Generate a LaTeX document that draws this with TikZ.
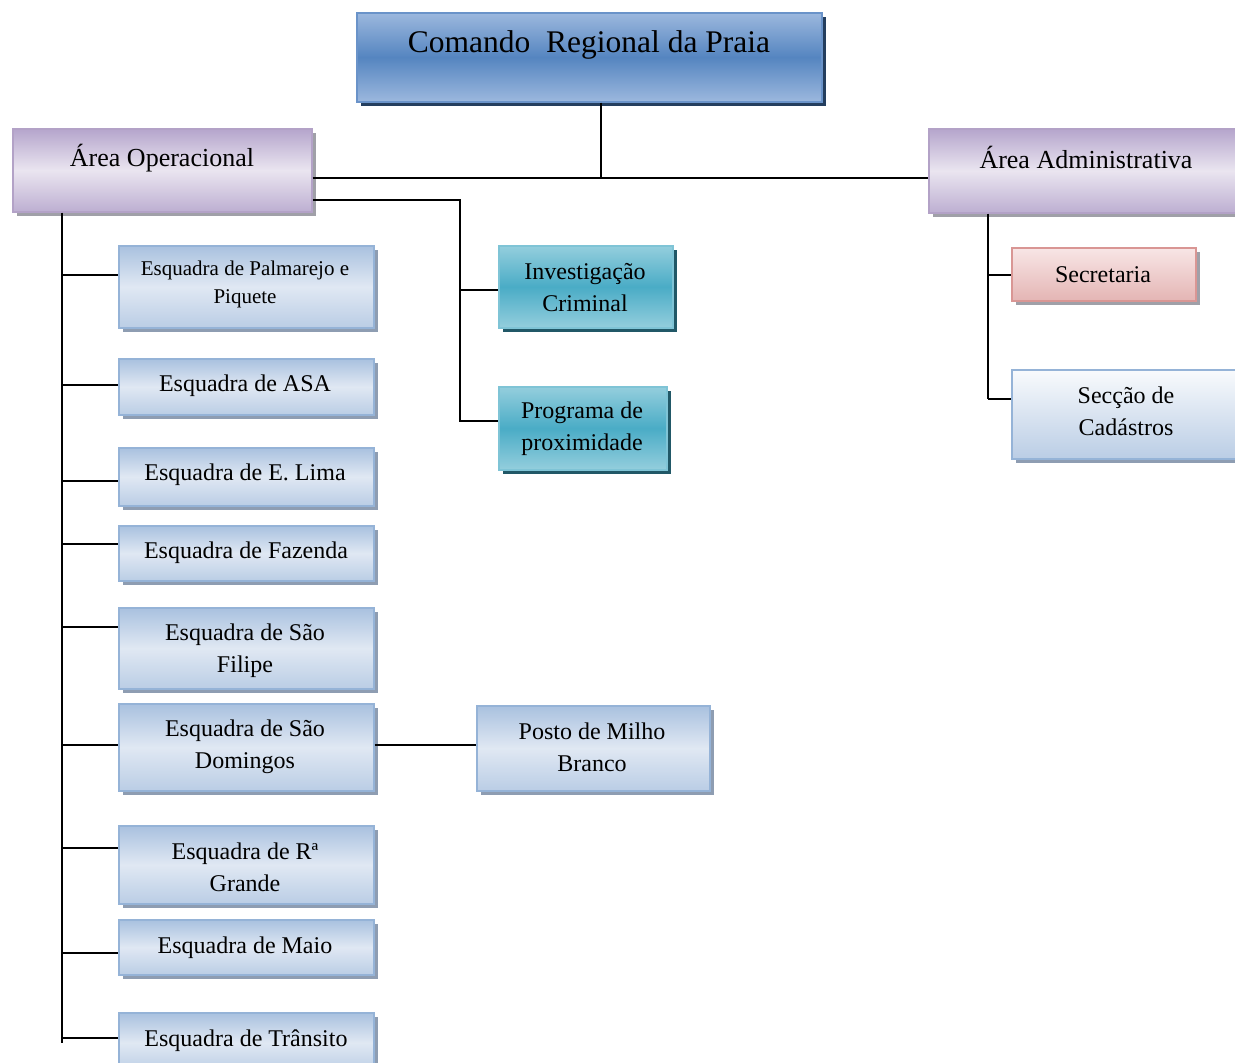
\documentclass[tikz,border=0pt]{standalone}
\usepackage{fontspec}
\setmainfont{Liberation Serif}
\usetikzlibrary{shadows}

\definecolor{cmdmid}{HTML}{5585C0}
\definecolor{cmdlt}{HTML}{9CB8DE}
\definecolor{cmdline}{HTML}{6A93C9}
\definecolor{cmdshadow}{HTML}{243E5E}
\definecolor{purdk}{HTML}{B5A5CC}
\definecolor{purlt}{HTML}{EAE5F0}
\definecolor{purline}{HTML}{B3A2C7}
\definecolor{bludk}{HTML}{A9C1DF}
\definecolor{blult}{HTML}{E0E8F3}
\definecolor{blumd}{HTML}{BACDE5}
\definecolor{bluline}{HTML}{95B3D7}
\definecolor{grshadow}{HTML}{8E9DB2}
\definecolor{tealdk}{HTML}{4AACC6}
\definecolor{teallt}{HTML}{94CEDD}
\definecolor{tealline}{HTML}{7FC4D6}
\definecolor{tealshadow}{HTML}{215867}
\definecolor{pinklt}{HTML}{F8E6E6}
\definecolor{pinkdk}{HTML}{E4B5B4}
\definecolor{pinkline}{HTML}{D99694}
\definecolor{grayshadow}{HTML}{A0A0A8}

\begin{document}
\begin{tikzpicture}[x=1pt,y=-1pt,
  box/.style={anchor=north west, inner sep=0pt, line width=1.6pt},
  shad/.style={drop shadow={shadow xshift=4pt, shadow yshift=-4pt, fill=#1, opacity=1}},
  cmdbox/.style={box, draw=cmdline, top color=cmdlt, bottom color=cmdlt, middle color=cmdmid, shad=cmdshadow},
  areabox/.style={box, draw=purline, shading angle=-25, top color=purdk, bottom color=purdk!85!purlt, middle color=purlt, shad=grayshadow},
  unitbox/.style={box, draw=bluline, shading angle=35, top color=bludk, bottom color=blumd, middle color=blult, shad=grshadow},
  tealbox/.style={box, draw=tealline, top color=teallt, bottom color=teallt, middle color=tealdk, shad=tealshadow},
  pinkbox/.style={box, draw=pinkline, top color=pinklt, bottom color=pinkdk, shad=grayshadow},
  lightbox/.style={box, draw=bluline, top color=white!80!blult, bottom color=blumd, shad=grshadow},
  lbl/.style={align=center, inner sep=0pt, font=\fontsize{24}{32}\selectfont},
  link/.style={line width=1.4pt, black}
]
\clip (0,0) rectangle (1235,1063);
\fill[white] (0,0) rectangle (1235,1063);

% boxes
\node[cmdbox, minimum width=465, minimum height=89] (cmd) at (356,12) {};
\node[areabox, minimum width=299, minimum height=83] (opr) at (12,128) {};
\node[areabox, minimum width=312, minimum height=84] (adm) at (928,128) {};

\node[unitbox, minimum width=255, minimum height=82] (palm) at (118,245) {};
\node[unitbox, minimum width=255, minimum height=56] (asa) at (118,358) {};
\node[unitbox, minimum width=255, minimum height=58] (lima) at (118,447) {};
\node[unitbox, minimum width=255, minimum height=55] (faz) at (118,525) {};
\node[unitbox, minimum width=255, minimum height=81] (sfil) at (118,607) {};
\node[unitbox, minimum width=255, minimum height=87] (sdom) at (118,703) {};
\node[unitbox, minimum width=255, minimum height=78] (rgr) at (118,825) {};
\node[unitbox, minimum width=255, minimum height=55] (maio) at (118,919) {};
\node[unitbox, minimum width=255, minimum height=60] (tra) at (118,1012) {};
\node[unitbox, minimum width=233, minimum height=85] (posto) at (476,705) {};

\node[tealbox, minimum width=174, minimum height=82] (inv) at (498,245) {};
\node[tealbox, minimum width=168, minimum height=83] (prog) at (498,386) {};

\node[pinkbox, minimum width=184, minimum height=53] (sec) at (1011,247) {};
\node[lightbox, minimum width=229, minimum height=89] (cad) at (1011,369) {};

% labels
\node[lbl, font=\fontsize{31.5}{36}\selectfont] (cmd-t) at (589,45) {Comando\ \ Regional da Praia};
\node[lbl, font=\fontsize{26}{32}\selectfont] (opr-t) at (162,158) {Área Operacional};
\node[lbl, font=\fontsize{26}{32}\selectfont] (adm-t) at (1086,157) {Área Administrativa};
\node[lbl, font=\fontsize{21}{28}\selectfont] (palm-t) at (245,284) {Esquadra de Palmarejo e\\Piquete};
\node[lbl] (asa-t) at (245,386) {Esquadra de ASA};
\node[lbl] (lima-t) at (245,475) {Esquadra de E. Lima};
\node[lbl] (faz-t) at (246,553) {Esquadra de Fazenda};
\node[lbl] (sfil-t) at (245,651) {Esquadra de São\\Filipe};
\node[lbl] (sdom-t) at (245,747) {Esquadra de São\\Domingos};
\node[lbl] (rgr-t) at (245,867) {Esquadra de Rª\\Grande};
\node[lbl] (maio-t) at (245,948) {Esquadra de Maio};
\node[lbl] (tra-t) at (246,1041) {Esquadra de Trânsito};
\node[lbl] (posto-t) at (592,747) {Posto de Milho\\Branco};
\node[lbl] (inv-t) at (585,288) {Investigação\\Criminal};
\node[lbl] (prog-t) at (582,429) {Programa de\\proximidade};
\node[lbl] (sec-t) at (1103,275) {Secretaria};
\node[lbl] (cad-t) at (1126,411) {Secção de\\Cadástros};

% junction points of the tree
\coordinate (top) at (601,178);
\coordinate (bus) at (460,200);
\coordinate (binv) at (460,290);
\coordinate (bprog) at (460,421);
\coordinate (left) at (62,0);
\coordinate (right) at (988,0);

% top level
\draw[link] (top |- cmd.south) -- (top);
\draw[link] (opr.east |- top) -- (adm.west |- top);

% investigation and proximity programme
\draw[link] (opr.east |- bus) -- (bus) -- (bprog) -- (prog.west |- bprog);
\draw[link] (binv) -- (inv.west |- binv);

% stations under the operational area
\draw[link] (left |- opr.south) -- (left |- tra.west);
\foreach \n/\yy in {palm/275, asa/385, lima/481, faz/544, sfil/627, sdom/745, rgr/848, maio/953, tra/1038}
  \draw[link] (62,\yy) -- (\n.west |- 62,\yy);
\draw[link] (sdom.east |- 373,745) -- (posto.west |- 373,745);

% administrative area
\draw[link] (right |- adm.south) -- (988,399);
\draw[link] (988,275) -- (sec.west |- 988,275);
\draw[link] (988,399) -- (cad.west |- 988,399);
\end{tikzpicture}
\end{document}
